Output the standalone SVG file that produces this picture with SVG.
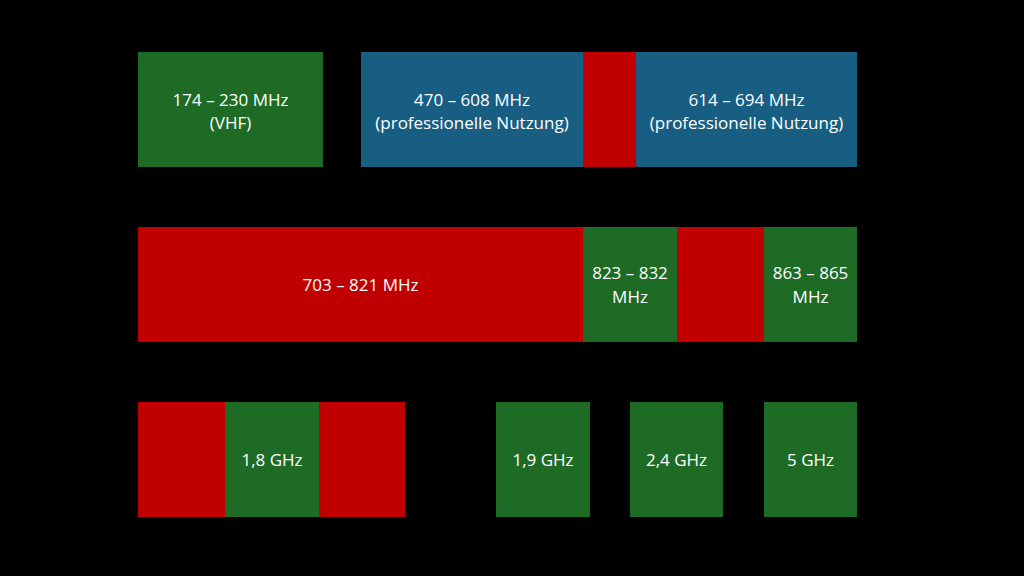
<svg xmlns="http://www.w3.org/2000/svg" width="1024" height="576" viewBox="0 0 1024 576">
<style>
.g{fill:#1e6b25}.b{fill:#175e82}.r{fill:#c00000}
text{font-family:"Open Sans","Liberation Sans",sans-serif;font-size:17px;fill:#ffffff;text-anchor:middle}
</style>
<rect width="1024" height="576" fill="#000"/>
<g id="vhf"><rect class="g" x="138" y="52" width="185" height="115"/><text x="230.5" y="106">174 – 230 MHz</text><text x="230.5" y="129">(VHF)</text></g>
<g id="uhf1"><rect class="b" x="361" y="52" width="222" height="115"/><text x="472" y="106">470 – 608 MHz</text><text x="472" y="129">(professionelle Nutzung)</text></g>
<g id="uhfgap"><rect class="r" x="583" y="52" width="53" height="115"/></g>
<g id="uhf2"><rect class="b" x="636" y="52" width="221" height="115"/><text x="746.5" y="106">614 – 694 MHz</text><text x="746.5" y="129">(professionelle Nutzung)</text></g>
<g id="lte"><rect class="r" x="138" y="227" width="445" height="115"/><text x="360.5" y="291">703 – 821 MHz</text></g>
<g id="b823"><rect class="g" x="583" y="227" width="94" height="115"/><text x="630" y="279">823 – 832</text><text x="630" y="303">MHz</text></g>
<g id="gap2"><rect class="r" x="677" y="227" width="87" height="115"/></g>
<g id="b863"><rect class="g" x="764" y="227" width="93" height="115"/><text x="810.5" y="279">863 – 865</text><text x="810.5" y="303">MHz</text></g>
<g id="r18a"><rect class="r" x="138" y="402" width="87" height="115"/></g>
<g id="g18"><rect class="g" x="225" y="402" width="94" height="115"/><text x="272" y="466">1,8 GHz</text></g>
<g id="r18b"><rect class="r" x="319" y="402" width="86" height="115"/></g>
<g id="g19"><rect class="g" x="496" y="402" width="94" height="115"/><text x="543" y="466">1,9 GHz</text></g>
<g id="g24"><rect class="g" x="630" y="402" width="93" height="115"/><text x="676.5" y="466">2,4 GHz</text></g>
<g id="g5"><rect class="g" x="764" y="402" width="93" height="115"/><text x="810.5" y="466">5 GHz</text></g>
<g id="connectors"/>
</svg>
